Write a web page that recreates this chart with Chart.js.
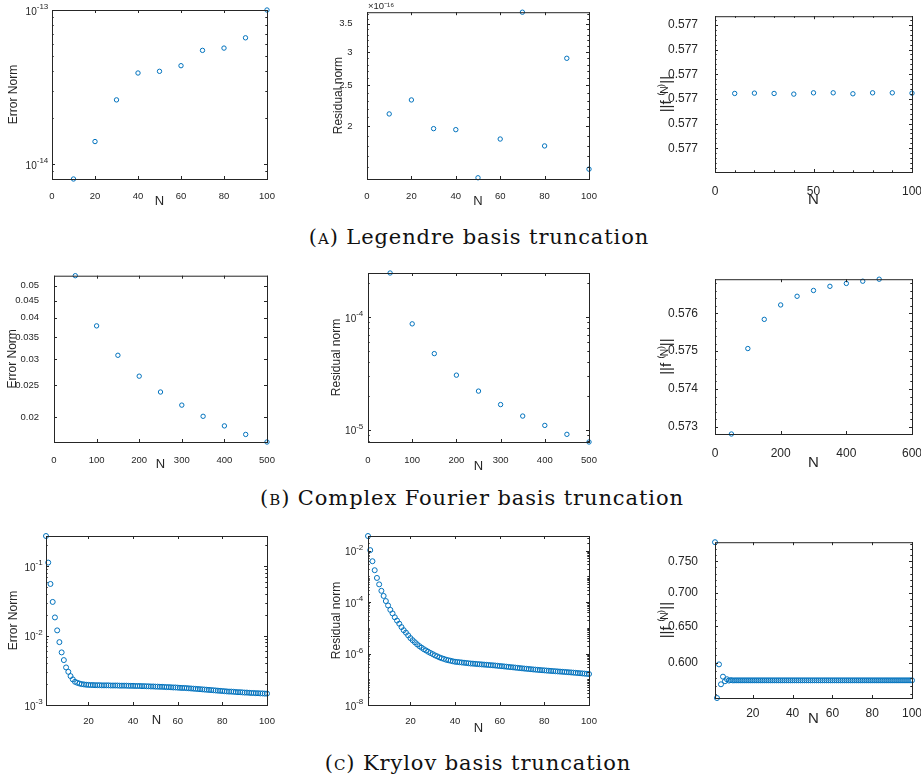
<!DOCTYPE html>
<html>
<head>
<meta charset="utf-8">
<script src="https://cdn.jsdelivr.net/npm/chart.js@4.4.0/dist/chart.umd.min.js"></script>
<style>
  html, body { margin: 0; padding: 0; background: #fff; overflow: hidden; }
  body { width: 921px; height: 784px; position: relative; }
  canvas { position: absolute; }
  .cap { position: absolute; transform: translateX(-50%); white-space: nowrap;
         font-family: 'DejaVu Serif', 'Liberation Serif', serif; font-size: 21px; line-height: 21px;
         letter-spacing: 0.9px; color: #111; }
  .sc { font-variant: small-caps; }
</style>
</head>
<body>
<div class="cap" style="left:479px; top:227px">(<span class="sc">a</span>) Legendre basis truncation</div>
<div class="cap" style="left:472px; top:488px">(<span class="sc">b</span>) Complex Fourier basis truncation</div>
<div class="cap" style="left:478px; top:753px">(<span class="sc">c</span>) Krylov basis truncation</div>
<script>
// ---- Legendre basis ----
const legN = [10, 20, 30, 40, 50, 60, 70, 80, 90, 100];
const legError = [8.0e-15, 1.40e-14, 2.61e-14, 3.90e-14, 4.00e-14, 4.35e-14, 5.47e-14, 5.66e-14, 6.60e-14, 1.0e-13];
const legResidual = [2.14e-16, 2.31e-16, 1.975e-16, 1.964e-16, 1.51e-16, 1.866e-16, 3.73e-16, 1.797e-16, 2.90e-16, 1.583e-16];
const legNorm = [0.57735022221, 0.57735022234, 0.57735022221, 0.57735022195, 0.57735022247,
                 0.57735022247, 0.57735022208, 0.57735022247, 0.57735022247, 0.57735022234];

// ---- Complex Fourier basis ----
const fouN = [50, 100, 150, 200, 250, 300, 350, 400, 450, 500];
const fouError = [0.0536, 0.0378, 0.0308, 0.02663, 0.02385, 0.02177, 0.02014, 0.01884, 0.01775, 0.01684];
const fouResidual = [2.47e-4, 8.72e-5, 4.74e-5, 3.05e-5, 2.20e-5, 1.67e-5, 1.32e-5, 1.09e-5, 9.08e-6, 7.76e-6];
const fouNorm = [0.57281, 0.575068, 0.575839, 0.57622, 0.576449, 0.576602, 0.576712, 0.576788, 0.576847, 0.5769];

// ---- Krylov basis (N = 1..100) ----
const kryN = Array.from({ length: 100 }, (_, i) => i + 1);
const kryError = [
  0.273, 0.113, 0.0556, 0.0306, 0.0183, 0.0119, 0.00806, 0.00573, 0.00444, 0.00348,
  0.00301, 0.00261, 0.00234, 0.00216, 0.00209, 0.00204, 0.00200, 0.00198, 0.00196, 0.00195,
  0.00194, 0.00194, 0.00193, 0.00193, 0.00193, 0.00192, 0.00192, 0.00192, 0.00192, 0.00191,
  0.00191, 0.00191, 0.00191, 0.00190, 0.00190, 0.00190, 0.00190, 0.00189, 0.00189, 0.00189,
  0.00188, 0.00188, 0.00188, 0.00187, 0.00187, 0.00186, 0.00186, 0.00185, 0.00185, 0.00184,
  0.00184, 0.00183, 0.00183, 0.00182, 0.00181, 0.00181, 0.00180, 0.00179, 0.00179, 0.00178,
  0.00177, 0.00176, 0.00176, 0.00175, 0.00174, 0.00173, 0.00172, 0.00171, 0.00170, 0.00169,
  0.00168, 0.00167, 0.00166, 0.00165, 0.00164, 0.00163, 0.00162, 0.00161, 0.00160, 0.00159,
  0.00158, 0.00157, 0.00156, 0.00156, 0.00155, 0.00154, 0.00153, 0.00153, 0.00152, 0.00151,
  0.00151, 0.00150, 0.00149, 0.00149, 0.00148, 0.00148, 0.00147, 0.00147, 0.00146, 0.00146
];
const kryResidual = [
  3.72e-2, 1.05e-2, 3.89e-3, 1.74e-3, 8.7e-4, 4.9e-4, 2.75e-4, 1.74e-4, 1.10e-4, 7.4e-5,
  5.0e-5, 3.63e-5, 2.57e-5, 1.91e-5, 1.45e-5, 1.07e-5, 8.1e-6, 6.5e-6, 5.1e-6, 4.0e-6,
  3.3e-6, 2.75e-6, 2.29e-6, 1.95e-6, 1.70e-6, 1.48e-6, 1.32e-6, 1.17e-6, 1.05e-6, 9.5e-7,
  8.5e-7, 7.8e-7, 7.1e-7, 6.6e-7, 6.2e-7, 5.75e-7, 5.5e-7, 5.25e-7, 5.0e-7, 4.8e-7,
  4.7e-7, 4.6e-7, 4.5e-7, 4.4e-7, 4.3e-7, 4.2e-7, 4.1e-7, 4.05e-7, 3.98e-7, 3.9e-7,
  3.84e-7, 3.78e-7, 3.72e-7, 3.66e-7, 3.6e-7, 3.54e-7, 3.48e-7, 3.42e-7, 3.35e-7, 3.28e-7,
  3.22e-7, 3.15e-7, 3.09e-7, 3.02e-7, 2.96e-7, 2.9e-7, 2.84e-7, 2.78e-7, 2.72e-7, 2.66e-7,
  2.61e-7, 2.56e-7, 2.51e-7, 2.46e-7, 2.41e-7, 2.37e-7, 2.33e-7, 2.29e-7, 2.25e-7, 2.22e-7,
  2.18e-7, 2.15e-7, 2.11e-7, 2.08e-7, 2.05e-7, 2.02e-7, 1.99e-7, 1.96e-7, 1.93e-7, 1.9e-7,
  1.87e-7, 1.84e-7, 1.81e-7, 1.78e-7, 1.75e-7, 1.72e-7, 1.69e-7, 1.66e-7, 1.63e-7, 1.6e-7
];
const kryNorm = [
  0.7823, 0.5554, 0.598, 0.5724, 0.5821, 0.5762, 0.5788, 0.5771, 0.5777, 0.5773,
  0.5774, 0.5774, 0.5774, 0.5774, 0.5774, 0.5774, 0.5774, 0.5774, 0.5774, 0.5774,
  0.5774, 0.5774, 0.5774, 0.5774, 0.5774, 0.5774, 0.5774, 0.5774, 0.5774, 0.5774,
  0.5774, 0.5774, 0.5774, 0.5774, 0.5774, 0.5774, 0.5774, 0.5774, 0.5774, 0.5774,
  0.5774, 0.5774, 0.5774, 0.5774, 0.5774, 0.5774, 0.5774, 0.5774, 0.5774, 0.5774,
  0.5774, 0.5774, 0.5774, 0.5774, 0.5774, 0.5774, 0.5774, 0.5774, 0.5774, 0.5774,
  0.5774, 0.5774, 0.5774, 0.5774, 0.5774, 0.5774, 0.5774, 0.5774, 0.5774, 0.5774,
  0.5774, 0.5774, 0.5774, 0.5774, 0.5774, 0.5774, 0.5774, 0.5774, 0.5774, 0.5774,
  0.5774, 0.5774, 0.5774, 0.5774, 0.5774, 0.5774, 0.5774, 0.5774, 0.5774, 0.5774,
  0.5774, 0.5774, 0.5774, 0.5774, 0.5774, 0.5774, 0.5774, 0.5774, 0.5774, 0.5774
];

// ---- tick labels ----
const legXTicks = [0, 20, 40, 60, 80, 100];
const legNormXTicks = [0, 50, 100];
const legErrorTicks = [1e-14, 1e-13];
const legResidualTicks = [2e-16, 2.5e-16, 3e-16, 3.5e-16];
const legNormTicks = [0.57735020, 0.57735021, 0.57735022, 0.57735023, 0.57735024, 0.57735025];
const fouXTicks = [0, 100, 200, 300, 400, 500];
const fouNormXTicks = [0, 200, 400, 600];
const fouErrorTicks = [0.02, 0.025, 0.03, 0.035, 0.04, 0.045, 0.05];
const fouResidualTicks = [1e-5, 1e-4];
const fouNormTicks = [0.573, 0.574, 0.575, 0.576];
const kryXTicks = [20, 40, 60, 80, 100];
const kryErrorTicks = [1e-3, 1e-2, 1e-1];
const kryResidualTicks = [1e-8, 1e-6, 1e-4, 1e-2];
const kryNormTicks = [0.6, 0.65, 0.7, 0.75];

const blue = '#0072BD';
const ink = '#262626';
const sans = "'Liberation Sans', Arial, sans-serif";
const normTitle = '||f \u207D\u1D3A\u207E||';

function logMinor(min, max) {
  const out = [];
  for (let e = Math.floor(Math.log10(min)); e <= Math.ceil(Math.log10(max)); e++) {
    for (let k = 1; k < 10; k++) {
      const v = k * Math.pow(10, e);
      if (v > min && v < max) out.push(v);
    }
  }
  return out;
}
function linMinor(min, max, step) {
  const out = [];
  for (let k = Math.ceil(min / step); k * step <= max; k++) out.push(k * step);
  return out;
}

// box with inward ticks on all four sides, like the original figure
const boxPlugin = {
  id: 'matlabBox',
  afterDatasetsDraw(chart, args, o) {
    const { ctx, chartArea: a, scales: { x, y } } = chart;
    ctx.save();
    ctx.strokeStyle = ink;
    ctx.lineWidth = 1;
    ctx.beginPath();
    const inside = (s, v) => v >= Math.min(s.min, s.max) * (1 - 1e-12) && v <= s.max * (1 + 1e-12);
    const xt = (v, len) => {
      if (!inside(x, v)) return;
      const p = Math.round(x.getPixelForValue(v)) + 0.5;
      ctx.moveTo(p, a.bottom); ctx.lineTo(p, a.bottom - len);
      ctx.moveTo(p, a.top); ctx.lineTo(p, a.top + len);
    };
    const yt = (v, len) => {
      if (!inside(y, v)) return;
      const p = Math.round(y.getPixelForValue(v)) + 0.5;
      ctx.moveTo(a.left, p); ctx.lineTo(a.left + len, p);
      ctx.moveTo(a.right, p); ctx.lineTo(a.right - len, p);
    };
    x.ticks.forEach(t => xt(t.value, 3));
    y.ticks.forEach(t => yt(t.value, 3));
    (o.xMinor || []).forEach(v => xt(v, 1.7));
    (o.yMinor || []).forEach(v => yt(v, 1.7));
    ctx.stroke();
    ctx.strokeRect(a.left + 0.5, a.top + 0.5, a.right - a.left, a.bottom - a.top);

    ctx.fillStyle = ink;
    ctx.textBaseline = 'middle';
    // 10^k labels with a raised exponent
    if (o.powLabels) {
      const xr = a.left - o.powPad;
      y.ticks.forEach(t => {
        const p = y.getPixelForValue(t.value);
        const ex = String(Math.round(Math.log10(t.value)));
        ctx.font = '8px ' + sans;
        const ew = ctx.measureText(ex).width;
        ctx.textAlign = 'right';
        ctx.fillText(ex, xr, p - 3);
        ctx.font = '10px ' + sans;
        ctx.fillText('10', xr - ew, p + 2);
      });
    }
    if (o.note) {
      ctx.font = '9.5px ' + sans;
      ctx.textAlign = 'left';
      ctx.textBaseline = 'alphabetic';
      ctx.fillText(o.note, a.left + 1, a.top - 3);
    }
    ctx.restore();
  }
};
Chart.register(boxPlugin);

const plots = [
  { col: 0, box: [52, 10, 267, 179], xs: legN, ys: legError,
    xMin: 0, xMax: 100, xTicks: legXTicks, xLabel: String,
    yType: 'logarithmic', yMin: 8.0e-15, yMax: 1e-13, yTicks: legErrorTicks, pow: true,
    yMinor: logMinor(8.0e-15, 1e-13),
    yTitle: 'Error Norm', yTitleX: 13.5, xTitleY: 201.7, xTickPad: 3.3, yTickPad: 3.7,
    tickSize: 9.5, yTitleSize: 12, xTitleSize: 13 },
  { col: 300, box: [367, 10, 589, 179], xs: legN, ys: legResidual,
    xMin: 0, xMax: 100, xTicks: legXTicks, xLabel: String,
    yType: 'logarithmic', yMin: 1.51e-16, yMax: 3.73e-16, yTicks: legResidualTicks,
    yLabel: v => String(parseFloat((v * 1e16).toPrecision(3))),
    yMinor: linMinor(1.51e-16, 3.73e-16, 0.1e-16), note: '\u00D710\u207B\u00B9\u2076',
    yTitle: 'Residual norm', yTitleX: 338.3, xTitleY: 201.7, xTickPad: 3.3, yTickPad: 6.5,
    tickSize: 9.5, yTitleSize: 12, xTitleSize: 13 },
  { col: 620, box: [715, 10, 912, 172], xs: legN, ys: legNorm,
    xMin: 0, xMax: 100, xTicks: legNormXTicks, xLabel: String, xMinor: linMinor(0, 100, 10),
    yType: 'linear', yMin: 0.5773501904, yMax: 0.5773502535, yTicks: legNormTicks,
    yLabel: v => v.toFixed(3), yMinor: linMinor(0.5773501904, 0.5773502535, 2e-9),
    yTitle: normTitle, yTitleX: 666.7, xTitleY: 200, xTickPad: 4, yTickPad: 9,
    tickSize: 12, yTitleSize: 15, xTitleSize: 15 },

  { col: 0, box: [54, 273, 267, 442], xs: fouN, ys: fouError,
    xMin: 0, xMax: 500, xTicks: fouXTicks, xLabel: String,
    yType: 'logarithmic', yMin: 0.01684, yMax: 0.0536, yTicks: fouErrorTicks, yLabel: v => String(v),
    yTitle: 'Error Norm', yTitleX: 12.7, xTitleY: 464, xTickPad: 5, yTickPad: 7,
    tickSize: 9.5, yTitleSize: 12, xTitleSize: 13 },
  { col: 300, box: [368, 273, 589, 442], xs: fouN, ys: fouResidual,
    xMin: 0, xMax: 500, xTicks: fouXTicks, xLabel: String,
    yType: 'logarithmic', yMin: 7.76e-6, yMax: 2.47e-4, yTicks: fouResidualTicks, pow: true,
    yMinor: logMinor(7.76e-6, 2.47e-4),
    yTitle: 'Residual norm', yTitleX: 336.7, xTitleY: 466, xTickPad: 5, yTickPad: 4.7,
    tickSize: 9.5, yTitleSize: 12, xTitleSize: 13 },
  { col: 620, box: [715, 273, 912, 434], xs: fouN, ys: fouNorm,
    xMin: 0, xMax: 600, xTicks: fouNormXTicks, xLabel: String,
    yType: 'linear', yMin: 0.57281, yMax: 0.5769, yTicks: fouNormTicks,
    yLabel: v => v.toFixed(3), yMinor: linMinor(0.57281, 0.5769, 0.0002),
    yTitle: normTitle, yTitleX: 666.7, xTitleY: 462.7, xTickPad: 4.8, yTickPad: 9,
    tickSize: 12, yTitleSize: 15, xTitleSize: 15 },

  { col: 0, box: [46, 536, 267, 705], xs: kryN, ys: kryError, r: 2.5,
    xMin: 1, xMax: 100, xTicks: kryXTicks, xLabel: String,
    yType: 'logarithmic', yMin: 1e-3, yMax: 0.273, yTicks: kryErrorTicks, pow: true,
    yMinor: logMinor(1e-3, 0.273),
    yTitle: 'Error Norm', yTitleX: 13.3, xTitleY: 720, xTickPad: 2.3, yTickPad: 3.3,
    tickSize: 9.5, yTitleSize: 12, xTitleSize: 13 },
  { col: 300, box: [368, 536, 589, 705], xs: kryN, ys: kryResidual, r: 2.5,
    xMin: 1, xMax: 100, xTicks: kryXTicks, xLabel: String,
    yType: 'logarithmic', yMin: 1e-8, yMax: 0.0372, yTicks: kryResidualTicks, pow: true,
    yMinor: logMinor(1e-8, 0.0372),
    yTitle: 'Residual norm', yTitleX: 336.7, xTitleY: 728, xTickPad: 2.9, yTickPad: 4.7,
    tickSize: 9.5, yTitleSize: 12, xTitleSize: 13 },
  { col: 620, box: [715, 536, 912, 698], xs: kryN, ys: kryNorm, r: 2.5,
    xMin: 1, xMax: 100, xTicks: kryXTicks, xLabel: String,
    yType: 'logarithmic', yMin: 0.5554, yMax: 0.7823, yTicks: kryNormTicks,
    yLabel: v => v.toFixed(3), yMinor: linMinor(0.5554, 0.7823, 0.01),
    yTitle: normTitle, yTitleX: 666.7, xTitleY: 719.3, xTickPad: 0, yTickPad: 9,
    tickSize: 12, yTitleSize: 15, xTitleSize: 15 }
];

function makeChart(p) {
  const [L, T, R, B] = p.box;
  const left = p.col, top = T - 10;
  const yw = L - left, pt = 10, pr = 20, xh = 40;
  const w = R + pr - left, h = B + xh - top;
  const cv = document.createElement('canvas');
  cv.width = w; cv.height = h;
  cv.style.left = left + 'px';
  cv.style.top = top + 'px';
  document.body.appendChild(cv);

  const yTitlePad = p.yTitleX - left - p.yTitleSize * 1.2 / 2;
  const xTitlePad = h - p.xTitleSize * 1.2 / 2 - (p.xTitleY - top);

  new Chart(cv, {
    type: 'scatter',
    data: {
      datasets: [{
        data: p.xs.map((x, i) => ({ x: x, y: p.ys[i] })),
        borderColor: blue,
        backgroundColor: 'rgba(0,0,0,0)',
        pointRadius: p.r || 2.2,
        pointBorderWidth: 1,
        clip: false
      }]
    },
    options: {
      responsive: false,
      animation: false,
      events: [],
      layout: { padding: { top: pt, right: pr, left: 0, bottom: 0 } },
      plugins: {
        legend: { display: false },
        tooltip: { enabled: false },
        matlabBox: { xMinor: p.xMinor, yMinor: p.yMinor, note: p.note,
                     powLabels: !!p.pow, powPad: p.yTickPad }
      },
      scales: {
        x: {
          type: 'linear', min: p.xMin, max: p.xMax,
          afterBuildTicks: s => { s.ticks = p.xTicks.map(v => ({ value: v })); },
          afterFit: s => { s.height = xh; },
          grid: { display: false }, border: { display: false },
          ticks: { autoSkip: false, maxRotation: 0, padding: p.xTickPad, color: ink,
                   font: { family: sans, size: p.tickSize }, callback: v => p.xLabel(v) },
          title: { display: true, text: 'N', color: ink,
                   font: { family: sans, size: p.xTitleSize }, padding: { top: 0, bottom: xTitlePad } }
        },
        y: {
          type: p.yType, min: p.yMin, max: p.yMax,
          afterBuildTicks: s => { s.ticks = p.yTicks.map(v => ({ value: v })); },
          afterFit: s => { s.width = yw; },
          grid: { display: false }, border: { display: false },
          ticks: { display: !p.pow, autoSkip: false, padding: p.yTickPad, color: ink,
                   font: { family: sans, size: p.tickSize },
                   callback: v => (p.yLabel ? p.yLabel(v) : '') },
          title: { display: true, text: p.yTitle, color: ink,
                   font: { family: sans, size: p.yTitleSize }, padding: { top: yTitlePad, bottom: 0 } }
        }
      }
    }
  });
}

plots.forEach(makeChart);
</script>
</body>
</html>
